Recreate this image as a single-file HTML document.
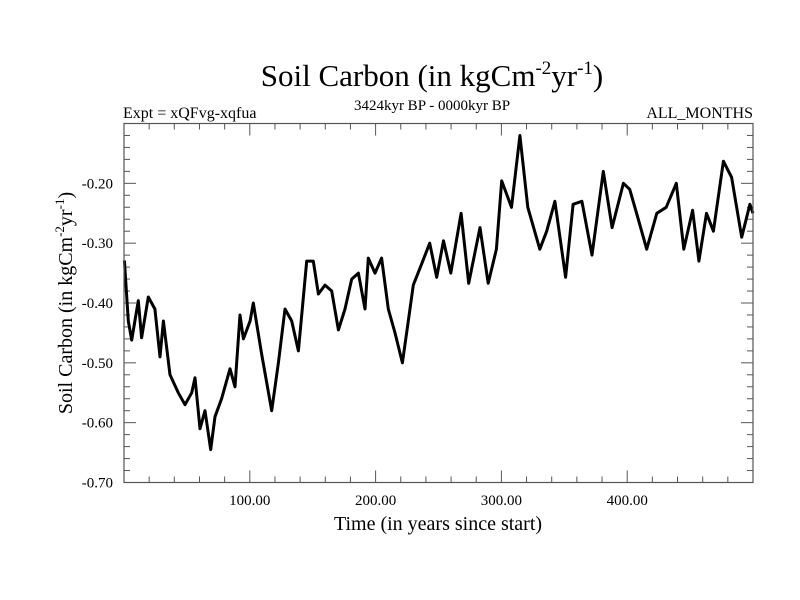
<!DOCTYPE html>
<html><head><meta charset="utf-8"><style>
body{margin:0;background:#fff}
svg{display:block;font-family:"Liberation Serif",serif}
</style></head><body>
<svg id="chart" width="800" height="600" viewBox="0 0 800 600">
<rect width="800" height="600" fill="#fff"/>
<text x="432" y="86" font-size="31" text-anchor="middle">Soil Carbon (in kgCm<tspan dy="-12" font-size="19">-2</tspan><tspan dy="12">yr</tspan><tspan dy="-12" font-size="19">-1</tspan><tspan dy="12">)</tspan></text>
<text x="123" y="118" font-size="16">Expt = xQFvg-xqfua</text>
<text x="432" y="110" font-size="15" text-anchor="middle">3424kyr BP - 0000kyr BP</text>
<text x="753" y="118" font-size="16" text-anchor="end">ALL_MONTHS</text>
<g id="axes"></g>
<path id="series" fill="none" stroke="#000" stroke-width="3" stroke-linejoin="round"/>
<rect x="124" y="123.5" width="629" height="359" fill="none" stroke="#555" stroke-width="1.2"/>
<text x="438" y="530" font-size="20" text-anchor="middle">Time (in years since start)</text>
<text transform="translate(72,303) rotate(-90)" font-size="20" text-anchor="middle">Soil Carbon (in kgCm<tspan dy="-8" font-size="13">-2</tspan><tspan dy="8">yr</tspan><tspan dy="-8" font-size="13">-1</tspan><tspan dy="8">)</tspan></text>
</svg>
<script>
const years=[0.3,3.4,6.1,11.4,14,19.3,24.6,28.6,31.3,36.6,43.2,48.5,53.8,56.4,60.4,64.4,68.9,72.3,77.6,84.3,88.2,92.2,94.9,100.2,102.8,109.4,117.4,122.7,128,133.3,138.6,145.2,150.5,154.5,159.8,165.1,170.4,175.7,181,186.3,191.6,194.2,199.5,204.8,210.1,215.4,221.3,226,230,236.6,243,248.6,254,259.8,268,274,283,289.5,296,300.2,308,314.7,321,330.5,336,342.5,351,357,364,372,381,388,397,402,407.5,415.5,423.5,431,439,445,452,457,463,468.5,476.5,483,491,497.5,500];
const values=[-0.329,-0.43,-0.462,-0.396,-0.458,-0.39,-0.41,-0.49,-0.43,-0.52,-0.55,-0.57,-0.55,-0.525,-0.61,-0.58,-0.645,-0.59,-0.56,-0.51,-0.54,-0.42,-0.46,-0.43,-0.40,-0.485,-0.58,-0.50,-0.41,-0.43,-0.48,-0.33,-0.33,-0.385,-0.37,-0.38,-0.445,-0.41,-0.36,-0.35,-0.41,-0.325,-0.35,-0.325,-0.41,-0.45,-0.50,-0.43,-0.37,-0.335,-0.30,-0.357,-0.296,-0.35,-0.25,-0.367,-0.274,-0.367,-0.31,-0.196,-0.24,-0.12,-0.24,-0.31,-0.28,-0.23,-0.357,-0.235,-0.23,-0.32,-0.18,-0.274,-0.20,-0.21,-0.25,-0.31,-0.25,-0.24,-0.20,-0.31,-0.245,-0.33,-0.25,-0.28,-0.163,-0.19,-0.29,-0.235,-0.25];
const xTicks=[100,200,300,400];
const xTickLabels=["100.00","200.00","300.00","400.00"];
const yTicks=[-0.2,-0.3,-0.4,-0.5,-0.6,-0.7];
const yTickLabels=["-0.20","-0.30","-0.40","-0.50","-0.60","-0.70"];
const X0=124,X1=753,Y0=482.5,Y1=123.5,xmin=0,xmax=500,ymin=-0.7,ymax=-0.1;
const sx=v=>X0+(v-xmin)/(xmax-xmin)*(X1-X0);
const sy=v=>Y0-(v-ymin)/(ymax-ymin)*(Y0-Y1);
const NS="http://www.w3.org/2000/svg";
const axes=document.getElementById('axes');
function line(x1,y1,x2,y2,name){const l=document.createElementNS(NS,'line');l.setAttribute('x1',x1);l.setAttribute('y1',y1);l.setAttribute('x2',x2);l.setAttribute('y2',y2);l.setAttribute('stroke','#555');l.setAttribute('stroke-width','1');


axes.appendChild(l);}
for(let v=20;v<500;v+=20){const big=v%100===0;const x=sx(v);line(x,Y0,x,Y0-(big?12:6),'x-tick');line(x,Y1,x,Y1+(big?12:6),'x-tick-top');}
for(let v=-0.68;v<-0.1+1e-9;v+=0.02){const big=Math.abs(Math.round(v*100))%10===0;const y=sy(v);line(X0,y,X0+(big?12:6),y,'y-tick');line(X1,y,X1-(big?12:6),y,'y-tick-right');}
xTicks.forEach((v,i)=>{const t=document.createElementNS(NS,'text');t.setAttribute('x',sx(v));t.setAttribute('y',505);t.setAttribute('font-size','15');t.setAttribute('text-anchor','middle');t.textContent=xTickLabels[i];


axes.appendChild(t);});
yTicks.forEach((v,i)=>{const t=document.createElementNS(NS,'text');t.setAttribute('x',113);t.setAttribute('y',sy(v)+5);t.setAttribute('font-size','15');t.setAttribute('text-anchor','end');t.textContent=yTickLabels[i];


axes.appendChild(t);});
document.getElementById('series').setAttribute('d',years.map((v,i)=>(i?'L':'M')+sx(v).toFixed(1)+' '+sy(values[i]).toFixed(1)).join(''));
</script>
</body></html>
